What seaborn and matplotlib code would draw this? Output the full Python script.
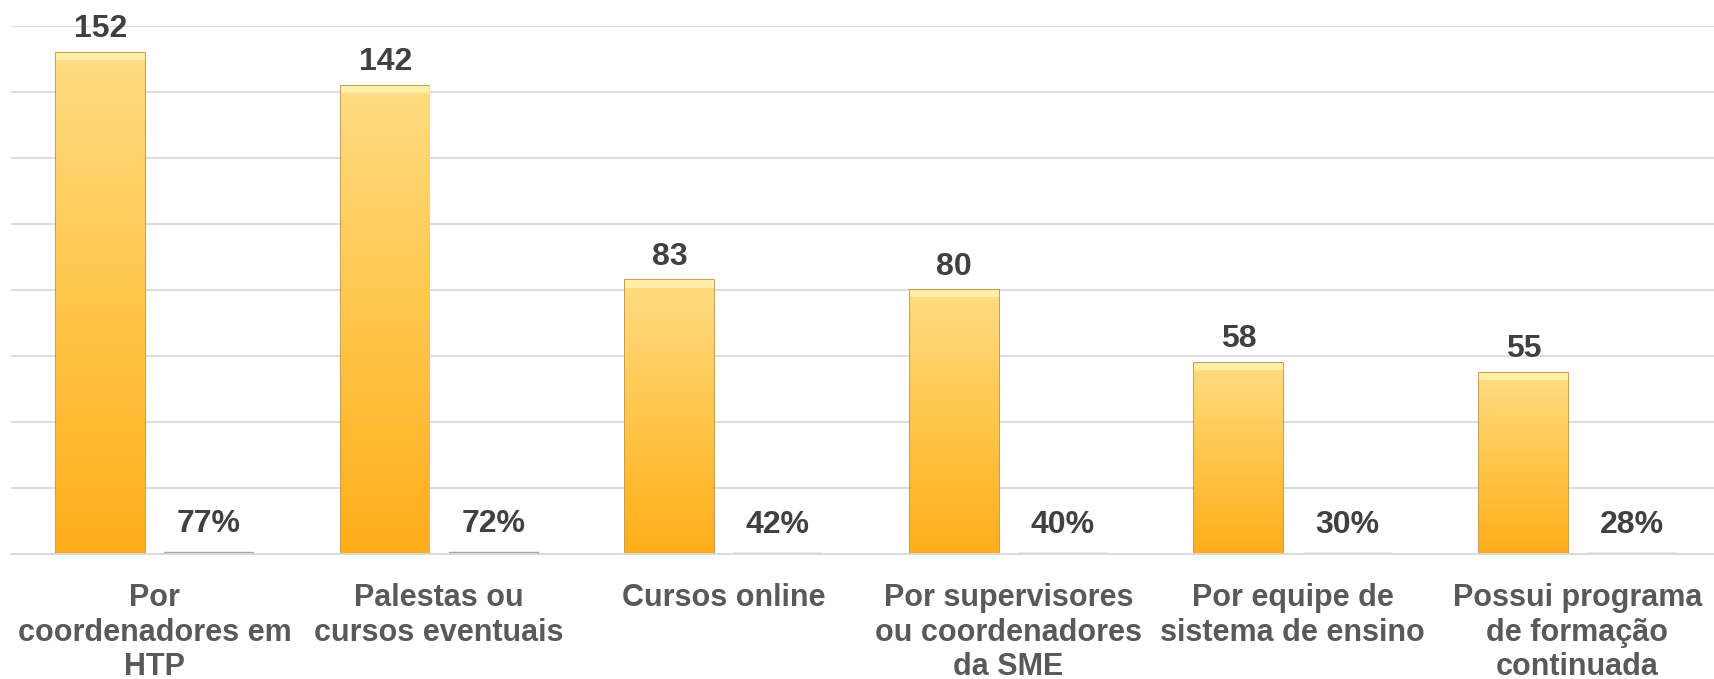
import numpy as np
import pandas as pd
import matplotlib
matplotlib.use("Agg")
import matplotlib.pyplot as plt
import seaborn as sns
from matplotlib.colors import LinearSegmentedColormap
from matplotlib.patches import Rectangle

categories = [
    "Por\ncoordenadores em\nHTP",
    "Palestas ou\ncursos eventuais",
    "Cursos online",
    "Por supervisores\nou coordenadores\nda SME",
    "Por equipe de\nsistema de ensino",
    "Possui programa\nde formação\ncontinuada",
]
counts = [152, 142, 83, 80, 58, 55]
shares = [0.77, 0.72, 0.42, 0.40, 0.30, 0.28]

df = pd.DataFrame({
    "categoria": categories * 2,
    "valor": counts + shares,
    "serie": ["Quantidade"] * len(categories) + ["Percentual"] * len(categories),
})

sns.set_style("white")
plt.rcParams["font.family"] = ["Liberation Sans", "DejaVu Sans"]

fig = plt.figure(figsize=(17.14, 6.79), dpi=100)
ax = fig.add_axes([0.0064, 0.1838, 0.9936, 0.7776])

sns.barplot(data=df, x="categoria", y="valor", hue="serie",
            palette={"Quantidade": "#FFC44D", "Percentual": "#A6A6A6"},
            width=0.76, gap=0.18, legend=False, ax=ax)

ax.set_ylim(0, 160)
ax.set_yticks(np.arange(0, 161, 20))
ax.set_yticklabels([])
ax.yaxis.grid(True, color="#D9D9D9", linewidth=1.3)
ax.set_axisbelow(True)
for side in ["left", "right", "top"]:
    ax.spines[side].set_visible(False)
ax.spines["bottom"].set_color("#D9D9D9")
ax.spines["bottom"].set_linewidth(1.3)
ax.set_xlabel("")
ax.set_ylabel("")
ax.tick_params(axis="x", length=0, pad=21)
ax.tick_params(axis="y", length=0)
for lbl in ax.get_xticklabels():
    lbl.set_fontsize(22)
    lbl.set_fontweight("bold")
    lbl.set_color("#595959")
    lbl.set_linespacing(1.19)

# gradient fill for the count bars
cmap = LinearSegmentedColormap.from_list("ouro", ["#FFAE1A", "#FFC64A", "#FFDC84"])
grad = np.linspace(0, 1, 256).reshape(-1, 1)
count_bars = ax.containers[0]
pct_bars = ax.containers[1]
for bar, v in zip(count_bars, counts):
    x0, w, h = bar.get_x(), bar.get_width(), bar.get_height()
    bar.set_edgecolor("#BF8B30")
    bar.set_linewidth(1.2)
    im = ax.imshow(grad, cmap=cmap, origin="lower", aspect="auto",
                   extent=[x0, x0 + w, 0, h], zorder=bar.get_zorder())
    im.set_clip_path(bar)
    ax.add_patch(Rectangle((x0, h - 2.2), w, 2.2, facecolor="#FFEFA8",
                           edgecolor="none", zorder=bar.get_zorder() + 0.1))
    ax.annotate(str(v), (x0 + w / 2, h), xytext=(0, 17), textcoords="offset points",
                ha="center", va="center", fontsize=23, fontweight="bold",
                color="#404040", annotation_clip=False)

for bar, v in zip(pct_bars, shares):
    bar.set_edgecolor("#A6A6A6")
    x0, w, h = bar.get_x(), bar.get_width(), bar.get_height()
    ax.annotate(f"{round(v * 100)}%", (x0 + w / 2, h), xytext=(0, 20),
                textcoords="offset points", ha="center", va="center",
                fontsize=23, fontweight="bold", color="#404040")

ax.set_xlim(-0.505, 5.48)
fig.savefig("out.png", dpi=100)
